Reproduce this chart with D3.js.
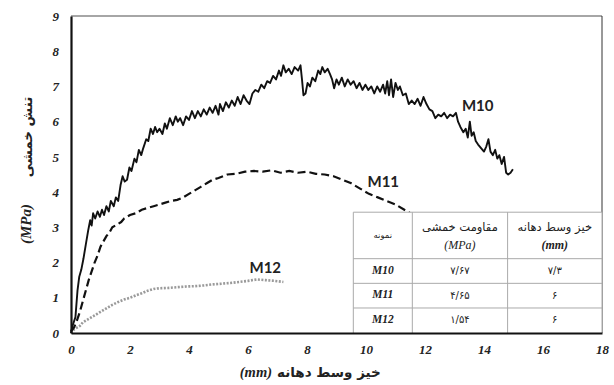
<!DOCTYPE html>
<html lang="fa">
<head>
<meta charset="UTF-8">
<title>Flexural stress</title>
<script src="https://d3js.org/d3.v7.min.js"></script>
<style>
  body { margin: 0; background: #fff; }
  .tick text { font-family: "Liberation Serif", serif; font-weight: bold; font-style: italic; font-size: 13px; fill: #222; }
</style>
</head>
<body>
<script>
// --- data ---
const xTicks = [0, 2, 4, 6, 8, 10, 12, 14, 16, 18];
const yTicks = [0, 1, 2, 3, 4, 5, 6, 7, 8, 9];

const m10 = [
  [0,0],[0.05,0.2],[0.15,0.45],[0.22,1.2],[0.28,1.6],[0.35,1.8],[0.42,2.1],[0.5,2.5],[0.58,2.9],[0.65,3.2],
  [0.7,3.05],[0.75,3.4],[0.82,3.25],[0.9,3.45],[0.98,3.3],[1.05,3.5],[1.12,3.35],[1.2,3.6],[1.28,3.45],[1.35,3.75],
  [1.45,3.6],[1.52,3.85],[1.6,3.75],[1.68,4.2],[1.75,4.45],[1.82,4.3],[1.9,4.35],[1.98,4.7],[2.05,4.6],[2.15,4.95],
  [2.22,4.85],[2.3,5.2],[2.38,5.05],[2.45,5.25],[2.55,5.5],[2.62,5.45],[2.7,5.8],[2.78,5.65],[2.85,5.85],[2.92,5.7],
  [3.0,5.8],[3.1,5.65],[3.18,5.95],[3.25,5.8],[3.35,6.1],[3.45,5.9],[3.55,6.15],[3.62,6.0],[3.7,6.1],[3.8,5.9],
  [3.9,6.15],[4.0,6.05],[4.1,6.3],[4.2,6.1],[4.3,6.3],[4.4,6.15],[4.5,6.35],[4.6,6.2],[4.7,6.4],[4.8,6.25],
  [4.9,6.45],[5.0,6.2],[5.05,6.5],[5.15,6.3],[5.25,6.55],[5.35,6.4],[5.45,6.6],[5.55,6.45],[5.65,6.7],[5.75,6.5],
  [5.85,6.75],[5.95,6.6],[6.05,6.5],[6.15,6.8],[6.25,6.9],[6.35,6.85],[6.45,7.05],[6.55,6.95],[6.65,7.15],[6.75,7.1],
  [6.85,7.3],[6.95,7.2],[7.05,7.45],[7.12,7.3],[7.2,7.6],[7.28,7.4],[7.38,7.5],[7.48,7.35],[7.58,7.55],[7.7,7.45],
  [7.78,7.6],[7.83,7.2],[7.88,6.75],[7.95,6.8],[8.02,7.1],[8.1,7.0],[8.18,7.25],[8.28,7.15],[8.38,7.45],[8.45,7.35],
  [8.52,7.55],[8.6,7.4],[8.7,7.5],[8.78,7.35],[8.85,7.2],[8.92,6.95],[9.0,7.2],[9.08,7.05],[9.18,7.25],[9.28,7.0],
  [9.38,7.2],[9.48,7.05],[9.58,7.15],[9.68,6.95],[9.78,7.1],[9.88,6.9],[9.98,7.05],[10.08,6.9],[10.18,7.0],[10.28,6.8],
  [10.38,7.0],[10.48,6.85],[10.58,7.05],[10.65,6.8],[10.72,7.15],[10.78,6.75],[10.85,7.2],[10.92,6.7],[11.0,7.1],[11.08,6.9],
  [11.15,7.0],[11.25,6.75],[11.35,6.8],[11.45,6.5],[11.55,6.6],[11.65,6.5],[11.75,6.65],[11.85,6.45],[11.95,6.7],[12.05,6.5],
  [12.15,6.35],[12.25,6.3],[12.35,6.1],[12.45,6.2],[12.55,6.15],[12.65,6.25],[12.75,6.1],[12.85,6.2],[12.95,6.15],[13.05,6.25],
  [13.12,6.0],[13.2,5.85],[13.3,5.7],[13.38,5.8],[13.45,5.55],[13.52,6.0],[13.58,5.6],[13.65,5.7],[13.72,5.45],[13.8,5.35],
  [13.9,5.25],[14.0,5.15],[14.08,5.3],[14.15,5.5],[14.22,5.15],[14.3,5.05],[14.38,5.2],[14.45,4.95],[14.52,5.05],[14.6,4.8],
  [14.68,5.0],[14.75,4.55],[14.82,4.5],[14.9,4.55],[14.98,4.65]
];

const m11 = [
  [0,0.05],[0.1,0.15],[0.2,0.35],[0.3,0.6],[0.4,0.9],[0.5,1.2],[0.6,1.5],[0.7,1.75],[0.8,2.0],[0.9,2.2],
  [1.0,2.45],[1.1,2.6],[1.2,2.75],[1.3,2.85],[1.4,3.0],[1.5,3.05],[1.6,3.1],[1.7,3.15],[1.8,3.25],[1.9,3.3],
  [2.0,3.35],[2.2,3.4],[2.4,3.5],[2.6,3.55],[2.8,3.6],[3.0,3.65],[3.2,3.7],[3.4,3.75],[3.6,3.78],[3.8,3.85],
  [4.0,3.95],[4.2,4.05],[4.4,4.15],[4.6,4.25],[4.8,4.35],[5.0,4.4],[5.3,4.5],[5.6,4.52],[5.9,4.58],[6.2,4.6],
  [6.5,4.58],[6.8,4.62],[7.1,4.55],[7.4,4.6],[7.7,4.55],[8.0,4.58],[8.3,4.52],[8.6,4.5],[8.9,4.45],[9.2,4.35],
  [9.5,4.25],[9.8,4.1],[10.1,3.95],[10.4,3.85],[10.7,3.75],[11.0,3.65],[11.3,3.5],[11.5,3.4]
];

const m12 = [
  [0,0],[0.1,0.1],[0.2,0.15],[0.3,0.2],[0.4,0.3],[0.5,0.35],[0.6,0.4],[0.7,0.45],[0.8,0.5],[0.9,0.55],
  [1.0,0.6],[1.2,0.7],[1.4,0.8],[1.6,0.88],[1.8,0.95],[2.0,1.0],[2.2,1.07],[2.4,1.13],[2.6,1.2],[2.8,1.25],
  [3.0,1.27],[3.3,1.28],[3.6,1.3],[3.9,1.32],[4.2,1.33],[4.5,1.35],[4.8,1.38],[5.1,1.4],[5.4,1.42],[5.7,1.45],
  [6.0,1.48],[6.3,1.52],[6.6,1.5],[6.9,1.48],[7.2,1.45]
];

const seriesNames = ["M10", "M11", "M12"];
const labelPos = [[13.25, 6.4], [10.05, 4.25], [6.05, 1.8]];

// table inset
const tableHead = ["نمونه", "مقاومت خمشی", "خیز وسط دهانه"];
const tableUnits = ["", "(MPa)", "(mm)"];
const strength = ["۷/۶۷", "۴/۶۵", "۱/۵۴"];
const deflection = ["۷/۳", "۶", "۶"];

// --- layout ---
const W = 614, H = 385;
const mLeft = 71, mRight = 602, mTop = 16, mBottom = 333;

const svg = d3.select("body").append("svg")
  .attr("width", W).attr("height", H);

const x = d3.scaleLinear().domain([0, 18]).range([mLeft, mRight]);
const y = d3.scaleLinear().domain([0, 9]).range([mBottom, mTop]);

// frame: grey top, thin right
svg.append("line").attr("x1", mLeft).attr("x2", mRight).attr("y1", mTop).attr("y2", mTop)
  .attr("stroke", "#888").attr("stroke-width", 1.5);
svg.append("line").attr("x1", mRight).attr("x2", mRight).attr("y1", mTop).attr("y2", mBottom)
  .attr("stroke", "#333").attr("stroke-width", 1);

const line = d3.line().x(d => x(d[0])).y(d => y(d[1]));

svg.append("path").datum(m12)
  .attr("fill", "none").attr("stroke", "#9a9a9a").attr("stroke-width", 2.6)
  .attr("stroke-dasharray", "2,1.5").attr("d", line);

svg.append("path").datum(m11)
  .attr("fill", "none").attr("stroke", "#111").attr("stroke-width", 2.2)
  .attr("stroke-dasharray", "8,4").attr("d", line);

svg.append("path").datum(m10)
  .attr("fill", "none").attr("stroke", "#111").attr("stroke-width", 1.9)
  .attr("stroke-linejoin", "round").attr("d", line);

// series labels
svg.selectAll(".slabel").data(seriesNames).enter().append("text")
  .attr("class", "slabel")
  .attr("x", (d, i) => x(labelPos[i][0]))
  .attr("y", (d, i) => y(labelPos[i][1]))
  .attr("dominant-baseline", "middle")
  .style("font-family", "Lato, 'Open Sans', sans-serif")
  .style("font-weight", "bold").style("font-size", "15px").style("fill", "#222")
  .text(d => d);

// table inset
const colX = [x(9.57), x(11.57), x(14.8), x(18)];
const rowY = [y(3.43), y(2.11), y(1.41), y(0.71), y(0)];
const tbl = svg.append("g");
tbl.append("rect").attr("x", colX[0]).attr("y", rowY[0])
  .attr("width", colX[3] - colX[0]).attr("height", rowY[4] - rowY[0])
  .attr("fill", "#fff");
rowY.slice(0, 4).forEach(v => {
  tbl.append("line").attr("x1", colX[0]).attr("x2", colX[3]).attr("y1", v).attr("y2", v)
    .attr("stroke", "#aaa").attr("stroke-width", 1);
});
colX.forEach(v => {
  tbl.append("line").attr("x1", v).attr("x2", v).attr("y1", rowY[0]).attr("y2", rowY[4])
    .attr("stroke", "#aaa").attr("stroke-width", 1);
});
const cx = i => (colX[i] + colX[i + 1]) / 2;
const cy = i => (rowY[i] + rowY[i + 1]) / 2;
tableHead.forEach((t, i) => {
  const two = tableUnits[i] !== "";
  tbl.append("text").attr("x", cx(i)).attr("y", two ? rowY[0] + 15 : cy(0))
    .attr("text-anchor", "middle").attr("dominant-baseline", "middle")
    .style("font-family", "'DejaVu Sans', sans-serif")
    .style("font-size", two ? "11.5px" : "8.5px").style("fill", "#222")
    .attr("direction", "rtl").text(t);
  if (two) {
    tbl.append("text").attr("x", cx(i)).attr("y", rowY[0] + 34)
      .attr("text-anchor", "middle").attr("dominant-baseline", "middle")
      .style("font-family", "'Liberation Serif', serif")
      .style("font-style", "italic").style("font-size", "12px")
      .style("font-weight", i === 2 ? "bold" : "normal").style("fill", "#222")
      .text(tableUnits[i]);
  }
});
seriesNames.forEach((s, r) => {
  tbl.append("text").attr("x", cx(0)).attr("y", cy(r + 1))
    .attr("text-anchor", "middle").attr("dominant-baseline", "middle")
    .style("font-family", "'Liberation Serif', serif")
    .style("font-style", "italic").style("font-weight", "bold").style("font-size", "11.5px")
    .style("fill", "#222").text(s);
  tbl.append("text").attr("x", cx(1)).attr("y", cy(r + 1))
    .attr("text-anchor", "middle").attr("dominant-baseline", "middle")
    .style("font-family", "'DejaVu Sans', sans-serif").style("font-size", "10px")
    .style("fill", "#222").text(strength[r]);
  tbl.append("text").attr("x", cx(2)).attr("y", cy(r + 1))
    .attr("text-anchor", "middle").attr("dominant-baseline", "middle")
    .style("font-family", "'DejaVu Sans', sans-serif").style("font-size", "10px")
    .style("fill", "#222").text(deflection[r]);
});

// axes
const xAxis = svg.append("g").attr("transform", `translate(0,${mBottom})`)
  .call(d3.axisBottom(x).tickValues(xTicks).tickSize(0).tickPadding(12).tickFormat(d3.format("d")));
const yAxis = svg.append("g").attr("transform", `translate(${mLeft},0)`)
  .call(d3.axisLeft(y).tickValues(yTicks).tickSize(0).tickPadding(12).tickFormat(d3.format("d")));
[xAxis, yAxis].forEach(a => a.select(".domain").attr("stroke", "#111").attr("stroke-width", 2.2));

// axis titles
svg.append("text").attr("x", 272).attr("y", 377)
  .attr("text-anchor", "end")
  .style("font-family", "'Liberation Serif', serif").style("font-style", "italic")
  .style("font-weight", "bold").style("font-size", "14.5px").style("fill", "#222")
  .text("(mm)");
svg.append("text").attr("x", 277).attr("y", 377)
  .attr("text-anchor", "start").attr("direction", "ltr")
  .style("font-family", "'DejaVu Sans', sans-serif")
  .style("font-weight", "bold").style("font-size", "13.5px").style("fill", "#222")
  .text("خیز وسط دهانه");

const yt = svg.append("g").attr("transform", "translate(28,0) rotate(-90)");
yt.append("text").attr("x", -224).attr("y", 0)
  .attr("text-anchor", "middle").attr("dominant-baseline", "middle")
  .style("font-family", "'Liberation Serif', serif").style("font-style", "italic")
  .style("font-weight", "bold").style("font-size", "15px").style("fill", "#222")
  .text("(MPa)");
yt.append("text").attr("x", -137).attr("y", 0)
  .attr("text-anchor", "middle").attr("dominant-baseline", "middle")
  .style("font-family", "'DejaVu Sans', sans-serif")
  .style("font-weight", "bold").style("font-size", "13.5px").style("fill", "#222")
  .text("تنش خمشی");
</script>
</body>
</html>
